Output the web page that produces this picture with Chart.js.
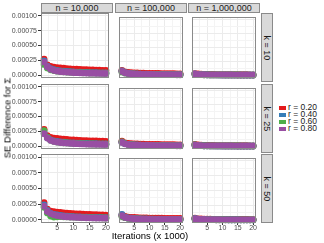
<!DOCTYPE html>
<html>
<head>
<meta charset="utf-8">
<script src="https://cdn.jsdelivr.net/npm/chart.js@4/dist/chart.umd.min.js"></script>
<style>
body { margin: 0; width: 324px; height: 243px; position: relative; overflow: hidden; background: #fff; font-family: "Liberation Sans", Arial, sans-serif; }
.box { position: absolute; }
.strip { position: absolute; box-sizing: border-box; background: #d9d9d9; border: 1px solid #8a8a8a; color: #1a1a1a; font-size: 9px; display: flex; align-items: center; justify-content: center; white-space: nowrap; }
.strip.right span { transform: rotate(90deg); display: inline-block; }
.title { position: absolute; color: #000; font-size: 9.5px; white-space: nowrap; }
.legend { position: absolute; left: 279px; top: 104px; font-size: 8.5px; color: #1a1a1a; }
.legend div { height: 7px; line-height: 7px; white-space: nowrap; }
.legend i { display: inline-block; width: 7px; height: 4px; margin-right: 2px; vertical-align: 0px; }
</style>
</head>
<body>
<script>
// facets and series
const nLabels = ["n = 10,000", "n = 100,000", "n = 1,000,000"];
const kLabels = ["k = 10", "k = 25", "k = 50"];
const rLabels = ["r = 0.20", "r = 0.40", "r = 0.60", "r = 0.80"];
const colors = ["#E41A1C", "#377EB8", "#4DAF4A", "#984EA3"];
const iterations = [1, 2, 3, 4, 5, 6, 7, 8, 9, 10, 11, 12, 13, 14, 15, 16, 17, 18, 19, 20];
const xTicks = [5, 10, 15, 20];
const xMinor = [2.5, 7.5, 12.5, 17.5];
const yTicks = [0, 0.00025, 0.0005, 0.00075, 0.001];
const yMinor = [0.000125, 0.000375, 0.000625, 0.000875];

// k = 10
const k10_n10k = [
  [27e-5, 17e-5, 14.5e-5, 13.5e-5, 12.5e-5, 12e-5, 11.5e-5, 11e-5, 10.5e-5, 10e-5, 9.8e-5, 9.5e-5, 9.2e-5, 9e-5, 8.8e-5, 8.6e-5, 8.4e-5, 8.2e-5, 8e-5, 7.8e-5],
  [24e-5, 15e-5, 11e-5, 9e-5, 8e-5, 7e-5, 6.5e-5, 6e-5, 5.6e-5, 5.3e-5, 5e-5, 4.8e-5, 4.6e-5, 4.4e-5, 4.2e-5, 4e-5, 3.9e-5, 3.8e-5, 3.7e-5, 3.6e-5],
  [18e-5, 12e-5, 9e-5, 7.5e-5, 6.5e-5, 6e-5, 5.5e-5, 5e-5, 4.8e-5, 4.5e-5, 4.3e-5, 4.1e-5, 3.9e-5, 3.7e-5, 3.5e-5, 3.4e-5, 3.3e-5, 3.2e-5, 3.1e-5, 3e-5],
  [22e-5, 14e-5, 10e-5, 8e-5, 6.8e-5, 6e-5, 5.4e-5, 5e-5, 4.6e-5, 4.3e-5, 4e-5, 3.8e-5, 3.6e-5, 3.4e-5, 3.2e-5, 3.1e-5, 3e-5, 2.9e-5, 2.8e-5, 2.7e-5]
];
const k10_n100k = [
  [8.8e-5, 6e-5, 5.2e-5, 4.7e-5, 4.4e-5, 4.1e-5, 3.9e-5, 3.7e-5, 3.5e-5, 3.4e-5, 3.3e-5, 3.2e-5, 3.1e-5, 3e-5, 2.9e-5, 2.8e-5, 2.8e-5, 2.7e-5, 2.6e-5, 2.6e-5],
  [8e-5, 4.8e-5, 3.6e-5, 3e-5, 2.6e-5, 2.3e-5, 2.1e-5, 1.9e-5, 1.8e-5, 1.7e-5, 1.6e-5, 1.5e-5, 1.4e-5, 1.4e-5, 1.3e-5, 1.3e-5, 1.2e-5, 1.2e-5, 1.2e-5, 1.1e-5],
  [6e-5, 4e-5, 3e-5, 2.5e-5, 2.2e-5, 2e-5, 1.8e-5, 1.7e-5, 1.6e-5, 1.5e-5, 1.4e-5, 1.3e-5, 1.3e-5, 1.2e-5, 1.2e-5, 1.1e-5, 1.1e-5, 1e-5, 1e-5, 1e-5],
  [7e-5, 4.5e-5, 3.3e-5, 2.7e-5, 2.3e-5, 2e-5, 1.8e-5, 1.6e-5, 1.5e-5, 1.4e-5, 1.3e-5, 1.2e-5, 1.2e-5, 1.1e-5, 1.1e-5, 1e-5, 1e-5, 1e-5, 0.9e-5, 0.9e-5]
];
const k10_n1m = [
  [3e-5, 2.2e-5, 1.8e-5, 1.6e-5, 1.5e-5, 1.4e-5, 1.3e-5, 1.2e-5, 1.2e-5, 1.1e-5, 1.1e-5, 1e-5, 1e-5, 1e-5, 0.9e-5, 0.9e-5, 0.9e-5, 0.9e-5, 0.8e-5, 0.8e-5],
  [2.5e-5, 1.6e-5, 1.2e-5, 1e-5, 0.9e-5, 0.8e-5, 0.7e-5, 0.7e-5, 0.6e-5, 0.6e-5, 0.6e-5, 0.5e-5, 0.5e-5, 0.5e-5, 0.5e-5, 0.4e-5, 0.4e-5, 0.4e-5, 0.4e-5, 0.4e-5],
  [2e-5, 1.3e-5, 1e-5, 0.8e-5, 0.7e-5, 0.6e-5, 0.6e-5, 0.5e-5, 0.5e-5, 0.5e-5, 0.4e-5, 0.4e-5, 0.4e-5, 0.4e-5, 0.4e-5, 0.3e-5, 0.3e-5, 0.3e-5, 0.3e-5, 0.3e-5],
  [2.2e-5, 1.4e-5, 1.1e-5, 0.9e-5, 0.7e-5, 0.6e-5, 0.6e-5, 0.5e-5, 0.5e-5, 0.4e-5, 0.4e-5, 0.4e-5, 0.4e-5, 0.3e-5, 0.3e-5, 0.3e-5, 0.3e-5, 0.3e-5, 0.3e-5, 0.3e-5]
];

// k = 25
const k25_n10k = [
  [28e-5, 17.5e-5, 14.5e-5, 13.5e-5, 12.8e-5, 12.2e-5, 11.6e-5, 11.1e-5, 10.6e-5, 10.2e-5, 9.9e-5, 9.6e-5, 9.3e-5, 9.1e-5, 8.9e-5, 8.7e-5, 8.5e-5, 8.3e-5, 8.1e-5, 7.9e-5],
  [22e-5, 14e-5, 10.5e-5, 8.8e-5, 7.8e-5, 7e-5, 6.4e-5, 5.9e-5, 5.5e-5, 5.2e-5, 4.9e-5, 4.7e-5, 4.5e-5, 4.3e-5, 4.1e-5, 4e-5, 3.9e-5, 3.8e-5, 3.7e-5, 3.6e-5],
  [26e-5, 15e-5, 10e-5, 8e-5, 6.8e-5, 6.1e-5, 5.6e-5, 5.2e-5, 4.9e-5, 4.6e-5, 4.4e-5, 4.2e-5, 4e-5, 3.8e-5, 3.6e-5, 3.5e-5, 3.4e-5, 3.3e-5, 3.2e-5, 3.1e-5],
  [21e-5, 13.5e-5, 9.8e-5, 7.9e-5, 6.7e-5, 6e-5, 5.4e-5, 5e-5, 4.6e-5, 4.3e-5, 4e-5, 3.8e-5, 3.6e-5, 3.4e-5, 3.2e-5, 3.1e-5, 3e-5, 2.9e-5, 2.8e-5, 2.7e-5]
];
const k25_n100k = [
  [9e-5, 6.2e-5, 5.2e-5, 4.7e-5, 4.4e-5, 4.1e-5, 3.9e-5, 3.7e-5, 3.5e-5, 3.4e-5, 3.3e-5, 3.2e-5, 3.1e-5, 3e-5, 2.9e-5, 2.8e-5, 2.8e-5, 2.7e-5, 2.6e-5, 2.6e-5],
  [7.5e-5, 4.6e-5, 3.5e-5, 2.9e-5, 2.5e-5, 2.2e-5, 2e-5, 1.9e-5, 1.8e-5, 1.7e-5, 1.6e-5, 1.5e-5, 1.4e-5, 1.4e-5, 1.3e-5, 1.3e-5, 1.2e-5, 1.2e-5, 1.2e-5, 1.1e-5],
  [8e-5, 4.8e-5, 3.4e-5, 2.7e-5, 2.3e-5, 2e-5, 1.8e-5, 1.7e-5, 1.6e-5, 1.5e-5, 1.4e-5, 1.3e-5, 1.3e-5, 1.2e-5, 1.2e-5, 1.1e-5, 1.1e-5, 1e-5, 1e-5, 1e-5],
  [6.8e-5, 4.4e-5, 3.2e-5, 2.6e-5, 2.2e-5, 2e-5, 1.8e-5, 1.6e-5, 1.5e-5, 1.4e-5, 1.3e-5, 1.2e-5, 1.2e-5, 1.1e-5, 1.1e-5, 1e-5, 1e-5, 1e-5, 0.9e-5, 0.9e-5]
];
const k25_n1m = [
  [3.1e-5, 2.2e-5, 1.8e-5, 1.6e-5, 1.5e-5, 1.4e-5, 1.3e-5, 1.2e-5, 1.2e-5, 1.1e-5, 1.1e-5, 1e-5, 1e-5, 1e-5, 0.9e-5, 0.9e-5, 0.9e-5, 0.9e-5, 0.8e-5, 0.8e-5],
  [2.3e-5, 1.5e-5, 1.1e-5, 0.9e-5, 0.8e-5, 0.7e-5, 0.7e-5, 0.6e-5, 0.6e-5, 0.6e-5, 0.5e-5, 0.5e-5, 0.5e-5, 0.5e-5, 0.4e-5, 0.4e-5, 0.4e-5, 0.4e-5, 0.4e-5, 0.4e-5],
  [2.6e-5, 1.5e-5, 1.1e-5, 0.9e-5, 0.7e-5, 0.6e-5, 0.6e-5, 0.5e-5, 0.5e-5, 0.5e-5, 0.4e-5, 0.4e-5, 0.4e-5, 0.4e-5, 0.4e-5, 0.3e-5, 0.3e-5, 0.3e-5, 0.3e-5, 0.3e-5],
  [2.1e-5, 1.4e-5, 1e-5, 0.8e-5, 0.7e-5, 0.6e-5, 0.6e-5, 0.5e-5, 0.5e-5, 0.4e-5, 0.4e-5, 0.4e-5, 0.4e-5, 0.3e-5, 0.3e-5, 0.3e-5, 0.3e-5, 0.3e-5, 0.3e-5, 0.3e-5]
];

// k = 50
const k50_n10k = [
  [27.5e-5, 17e-5, 14e-5, 13e-5, 12.4e-5, 11.8e-5, 11.2e-5, 10.8e-5, 10.4e-5, 10e-5, 9.7e-5, 9.4e-5, 9.1e-5, 8.9e-5, 8.7e-5, 8.5e-5, 8.3e-5, 8.1e-5, 7.9e-5, 7.7e-5],
  [24e-5, 15e-5, 10.5e-5, 8.8e-5, 7.8e-5, 7e-5, 6.4e-5, 5.9e-5, 5.5e-5, 5.2e-5, 4.9e-5, 4.7e-5, 4.5e-5, 4.3e-5, 4.1e-5, 4e-5, 3.9e-5, 3.8e-5, 3.7e-5, 3.6e-5],
  [20e-5, 11e-5, 6e-5, 4.5e-5, 5e-5, 5.2e-5, 5e-5, 4.8e-5, 4.6e-5, 4.4e-5, 4.2e-5, 4e-5, 3.8e-5, 3.6e-5, 3.5e-5, 3.4e-5, 3.3e-5, 3.2e-5, 3.1e-5, 3e-5],
  [22e-5, 13.5e-5, 10e-5, 8e-5, 6.8e-5, 6e-5, 5.4e-5, 5e-5, 4.6e-5, 4.3e-5, 4e-5, 3.8e-5, 3.6e-5, 3.4e-5, 3.2e-5, 3.1e-5, 3e-5, 2.9e-5, 2.8e-5, 2.7e-5]
];
const k50_n100k = [
  [8.6e-5, 6e-5, 5.1e-5, 4.6e-5, 4.3e-5, 4e-5, 3.8e-5, 3.6e-5, 3.5e-5, 3.4e-5, 3.3e-5, 3.2e-5, 3.1e-5, 3e-5, 2.9e-5, 2.8e-5, 2.8e-5, 2.7e-5, 2.6e-5, 2.6e-5],
  [9.5e-5, 5e-5, 3.6e-5, 3e-5, 2.6e-5, 2.3e-5, 2.1e-5, 1.9e-5, 1.8e-5, 1.7e-5, 1.6e-5, 1.5e-5, 1.4e-5, 1.4e-5, 1.3e-5, 1.3e-5, 1.2e-5, 1.2e-5, 1.2e-5, 1.1e-5],
  [6e-5, 4e-5, 3e-5, 2.5e-5, 2.2e-5, 2e-5, 1.8e-5, 1.7e-5, 1.6e-5, 1.5e-5, 1.4e-5, 1.3e-5, 1.3e-5, 1.2e-5, 1.2e-5, 1.1e-5, 1.1e-5, 1e-5, 1e-5, 1e-5],
  [7.5e-5, 4.5e-5, 3.3e-5, 2.7e-5, 2.3e-5, 2e-5, 1.8e-5, 1.6e-5, 1.5e-5, 1.4e-5, 1.3e-5, 1.2e-5, 1.2e-5, 1.1e-5, 1.1e-5, 1e-5, 1e-5, 1e-5, 0.9e-5, 0.9e-5]
];
const k50_n1m = [
  [3e-5, 2.1e-5, 1.8e-5, 1.6e-5, 1.5e-5, 1.4e-5, 1.3e-5, 1.2e-5, 1.2e-5, 1.1e-5, 1.1e-5, 1e-5, 1e-5, 1e-5, 0.9e-5, 0.9e-5, 0.9e-5, 0.9e-5, 0.8e-5, 0.8e-5],
  [2.6e-5, 1.6e-5, 1.2e-5, 1e-5, 0.9e-5, 0.8e-5, 0.7e-5, 0.7e-5, 0.6e-5, 0.6e-5, 0.6e-5, 0.5e-5, 0.5e-5, 0.5e-5, 0.5e-5, 0.4e-5, 0.4e-5, 0.4e-5, 0.4e-5, 0.4e-5],
  [2e-5, 1.3e-5, 1e-5, 0.8e-5, 0.7e-5, 0.6e-5, 0.6e-5, 0.5e-5, 0.5e-5, 0.5e-5, 0.4e-5, 0.4e-5, 0.4e-5, 0.4e-5, 0.4e-5, 0.3e-5, 0.3e-5, 0.3e-5, 0.3e-5, 0.3e-5],
  [2.3e-5, 1.4e-5, 1.1e-5, 0.9e-5, 0.7e-5, 0.6e-5, 0.6e-5, 0.5e-5, 0.5e-5, 0.4e-5, 0.4e-5, 0.4e-5, 0.4e-5, 0.3e-5, 0.3e-5, 0.3e-5, 0.3e-5, 0.3e-5, 0.3e-5, 0.3e-5]
];

const panels = [
  [k10_n10k, k10_n100k, k10_n1m],
  [k25_n10k, k25_n100k, k25_n1m],
  [k50_n10k, k50_n100k, k50_n1m]
];

// layout (px)
const colLeft = [41, 115, 188];
const rowTop = [13, 84, 154];
const PW = 72, PH = 69;
const AXW = 41, AXH = 12, PADT = 5;

const tickFont = { family: "'Liberation Sans', Arial, sans-serif", size: 7 };

// white panel + grey border like ggplot
const borderPlugin = {
  id: 'panelBorder',
  beforeDraw(chart) {
    const a = chart.chartArea, c = chart.ctx;
    c.save();
    c.fillStyle = '#fff';
    c.fillRect(a.left, a.top, a.width, a.height);
    c.restore();
  },
  afterDraw(chart) {
    const a = chart.chartArea, c = chart.ctx;
    c.save();
    c.strokeStyle = '#8a8a8a';
    c.lineWidth = 1;
    c.strokeRect(a.left + 0.5, a.top + 0.5, a.width - 1, a.height - 1);
    c.restore();
  }
};

function addDiv(cls, style, html) {
  const d = document.createElement('div');
  d.className = cls;
  Object.assign(d.style, style);
  d.innerHTML = html;
  document.body.appendChild(d);
  return d;
}

function makePanel(row, col) {
  const isLeft = col === 0, isBottom = row === 2;
  const padL = isLeft ? AXW : 0, padB = isBottom ? AXH : 0, padT = isLeft ? PADT : 0;
  const w = PW + padL, h = PH + padB + padT;
  const box = addDiv('box', { left: (colLeft[col] - padL) + 'px', top: (rowTop[row] - padT) + 'px', width: w + 'px', height: h + 'px' }, '');
  const canvas = document.createElement('canvas');
  canvas.width = w; canvas.height = h;
  box.appendChild(canvas);

  const series = panels[row][col];
  new Chart(canvas, {
    type: 'scatter',
    data: {
      datasets: rLabels.map((r, i) => ({
        label: r,
        data: iterations.map((x, j) => ({ x: x, y: series[i][j] })),
        backgroundColor: colors[i],
        borderWidth: 0,
        pointRadius: 3.4,
        order: rLabels.length - i,   // r = 0.80 ends up on top
        clip: false
      }))
    },
    options: {
      responsive: false,
      animation: false,
      devicePixelRatio: 1,
      layout: { padding: { top: padT, left: 0, right: 0, bottom: 0 } },
      plugins: { legend: { display: false }, tooltip: { enabled: false } },
      scales: {
        x: {
          type: 'linear', min: 0.05, max: 20.95,
          afterBuildTicks: ax => { ax.ticks = xMinor.concat(xTicks).sort((a, b) => a - b).map(v => ({ value: v })); },
          afterFit: s => { s.height = padB; s.paddingLeft = 0; s.paddingRight = 0; },
          border: { display: false },
          grid: {
            color: ctx => xTicks.includes(ctx.tick.value) ? '#ebebeb' : '#f4f4f4',
            lineWidth: 1,
            drawTicks: isBottom,
            tickLength: 2,
            tickColor: ctx => xTicks.includes(ctx.tick.value) ? '#333' : 'rgba(0,0,0,0)'
          },
          ticks: {
            display: isBottom, autoSkip: false, maxRotation: 0, padding: -1,
            font: tickFont, color: '#4d4d4d',
            callback: v => xTicks.includes(v) ? String(v) : ''
          }
        },
        y: {
          type: 'linear', min: -0.00005, max: 0.00105,
          afterBuildTicks: ax => { ax.ticks = yMinor.concat(yTicks).sort((a, b) => a - b).map(v => ({ value: v })); },
          afterFit: s => { s.width = padL; s.paddingTop = 0; s.paddingBottom = 0; },
          border: { display: false },
          grid: {
            color: ctx => yTicks.includes(ctx.tick.value) ? '#ebebeb' : '#f4f4f4',
            lineWidth: 1,
            drawTicks: isLeft,
            tickLength: 3,
            tickColor: ctx => yTicks.includes(ctx.tick.value) ? '#333' : 'rgba(0,0,0,0)'
          },
          ticks: {
            display: isLeft, padding: 1,
            font: tickFont, color: '#4d4d4d',
            callback: v => yTicks.includes(v) ? v.toFixed(5) : ''
          }
        }
      }
    },
    plugins: [borderPlugin]
  });
}

for (let r = 0; r < 3; r++) for (let c = 0; c < 3; c++) makePanel(r, c);

// facet strips
nLabels.forEach((t, c) => addDiv('strip', { left: colLeft[c] + 'px', top: '3px', width: PW + 'px', height: '10px' }, t));
kLabels.forEach((t, r) => addDiv('strip right', { left: '261px', top: rowTop[r] + 'px', width: '12px', height: PH + 'px' }, '<span>' + t + '</span>'));

// axis titles
addDiv('title', { left: '150px', top: '230px', transform: 'translateX(-50%)' }, 'Iterations (x 1000)');
addDiv('title', { left: '7px', top: '118px', transform: 'translate(-50%,-50%) rotate(-90deg)' }, 'SE Difference for Σ');

// legend
addDiv('legend', {}, rLabels.map((r, i) => '<div><i style="background:' + colors[i] + '"></i>' + r + '</div>').join(''));
</script>
</body>
</html>
